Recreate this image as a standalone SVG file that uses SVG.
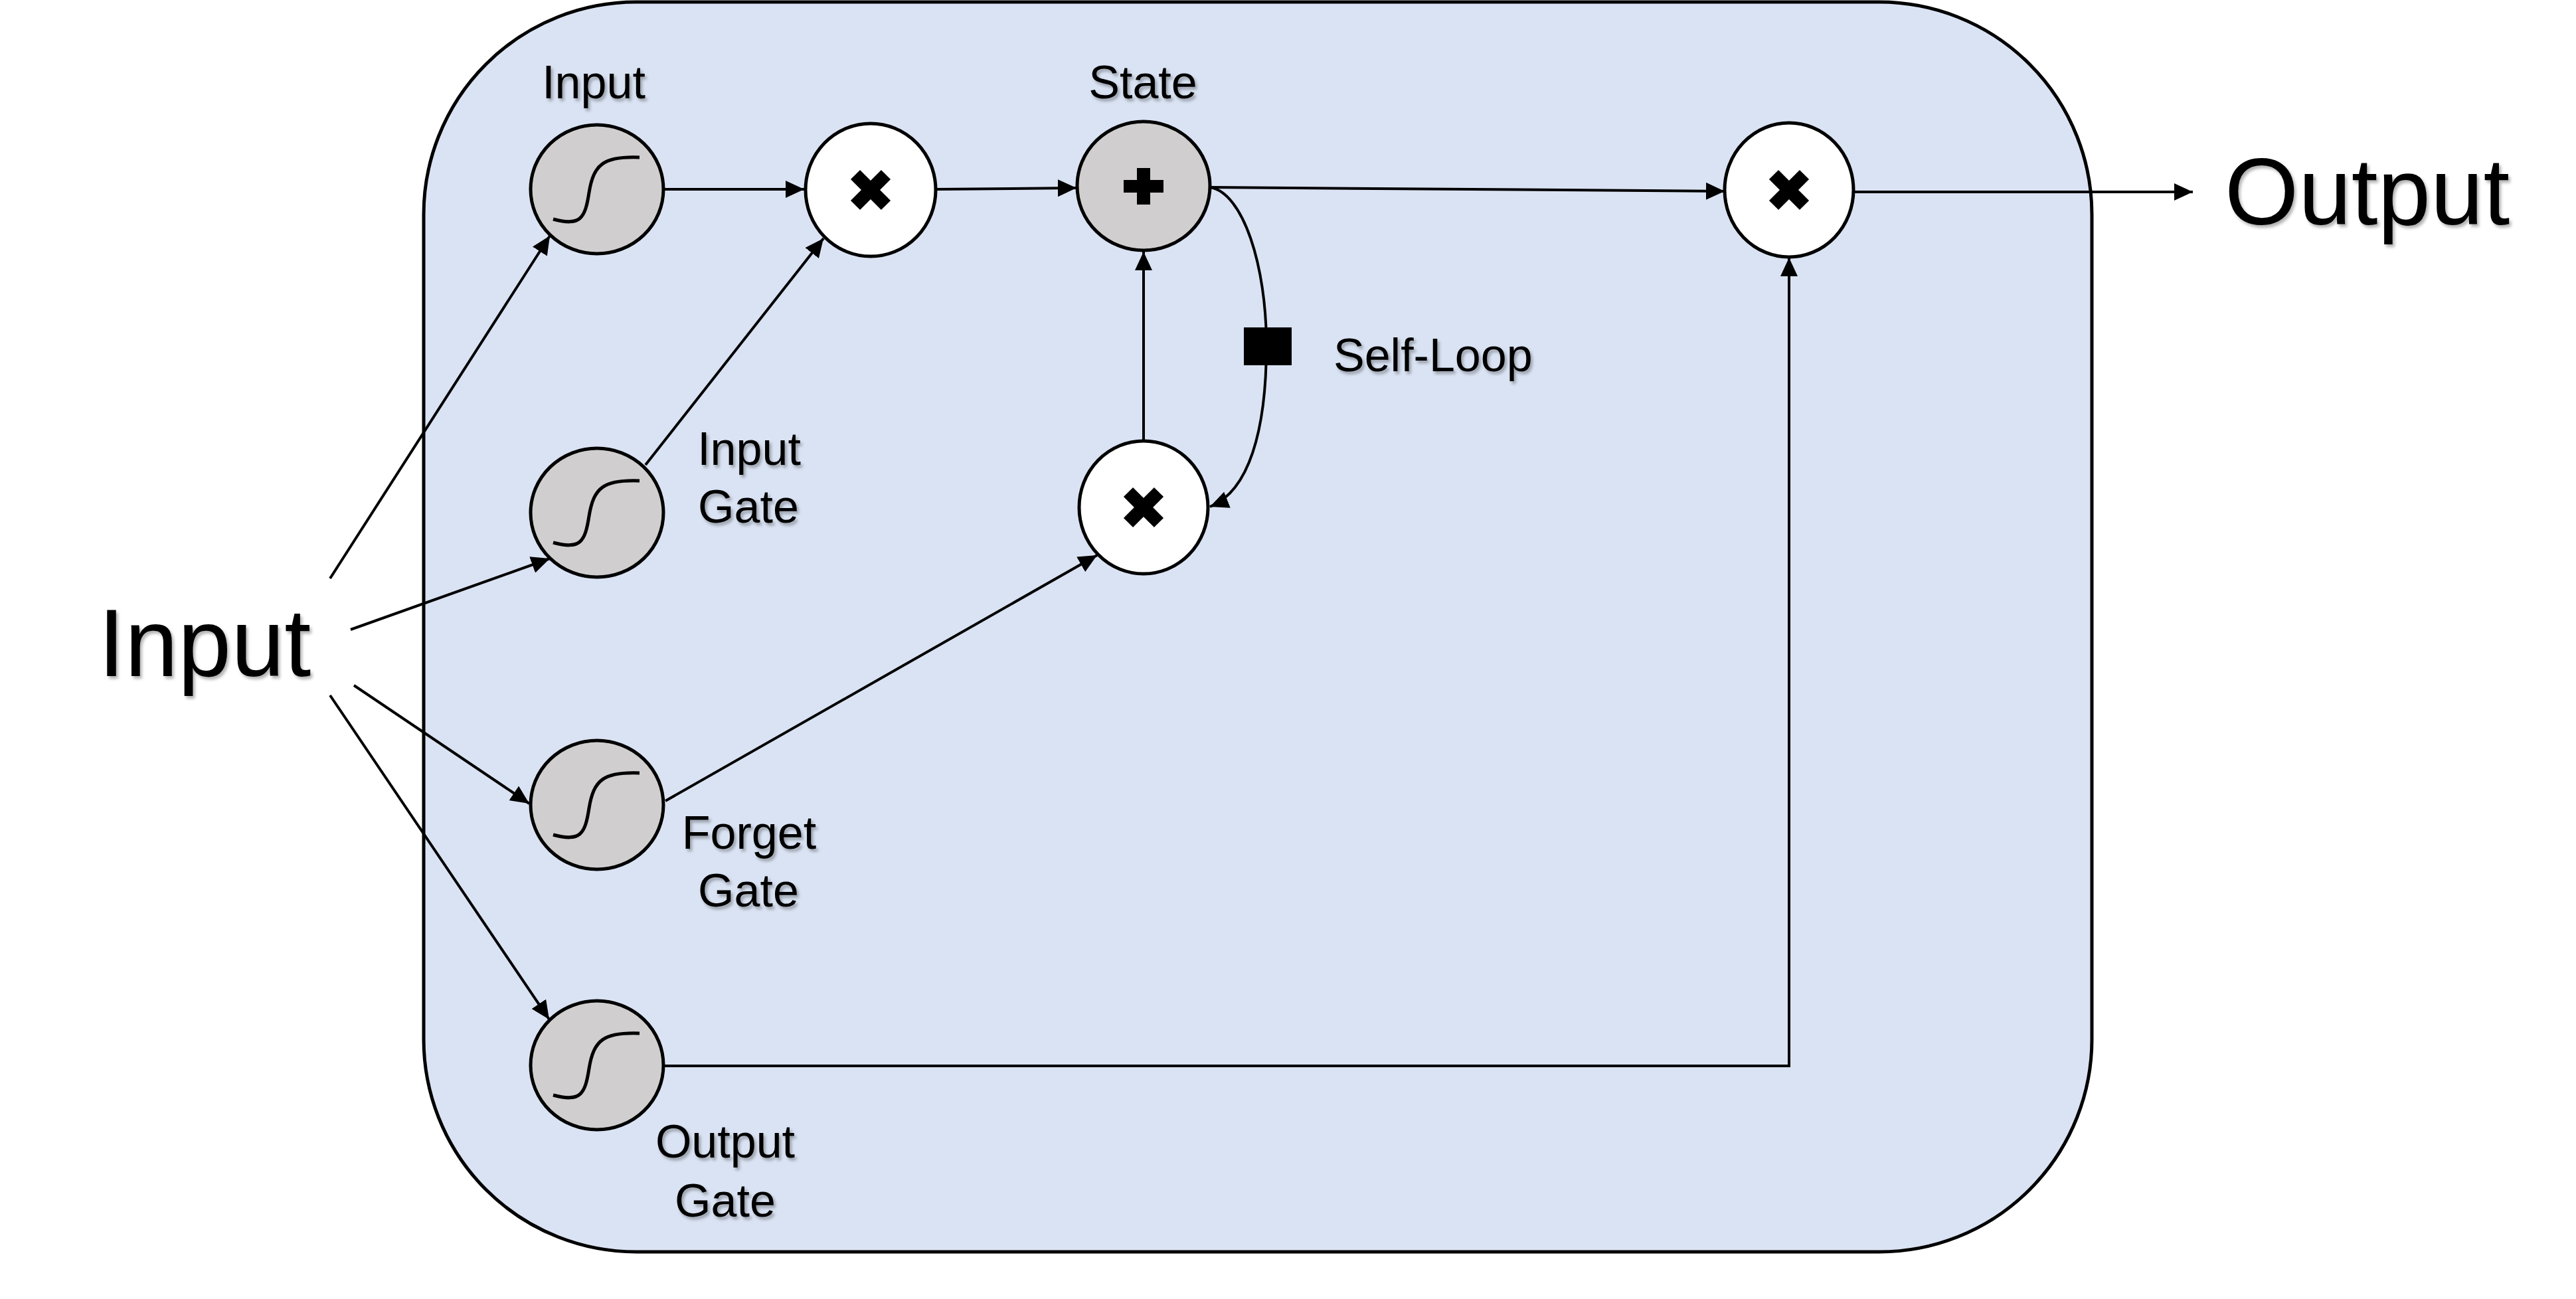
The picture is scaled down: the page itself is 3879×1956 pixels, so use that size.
<svg xmlns="http://www.w3.org/2000/svg" width="3879" height="1956" viewBox="0 0 3879 1956">
<style>
.lbl{font-family:"Liberation Sans",Arial,sans-serif;font-size:70px;fill:#000;filter:url(#sh)}
.big{font-family:"Liberation Sans",Arial,sans-serif;font-size:142px;fill:#000;filter:url(#sh)}
.gray{fill:#D0CECE;stroke:#000;stroke-width:5}
.white{fill:#FFFFFF;stroke:#000;stroke-width:5}
.sig{fill:none;stroke:#000;stroke-width:5;stroke-linecap:butt}
.conn{fill:none;stroke:#000;stroke-width:4}
.arr{marker-end:url(#ah)}
.xm{stroke:#000;stroke-width:20;stroke-linecap:butt}
</style>
<defs>
<filter id="sh" x="-10%" y="-10%" width="130%" height="140%">
<feDropShadow dx="3" dy="4" stdDeviation="2" flood-color="#000" flood-opacity="0.3"/>
</filter>
<marker id="ah" markerUnits="userSpaceOnUse" markerWidth="30" markerHeight="26" refX="28" refY="13" orient="auto">
<path d="M0,0 L28,13 L0,26 z" fill="#000"/>
</marker>
<path id="sigmoid" d="M -66 45 C -25 56 -18 44 -12 5 C -5 -38 10 -50 64 -48" class="sig"/>
<g id="xmark"><line class="xm" x1="-23" y1="-23" x2="23" y2="23"/><line class="xm" x1="23" y1="-23" x2="-23" y2="23"/></g>
</defs>
<rect width="3879" height="1956" fill="#FFFFFF"/>
<g id="cell">
<rect x="638" y="3" width="2512" height="1882" rx="320" ry="320" fill="#DAE3F3" stroke="#000" stroke-width="5"/>
</g>
<g id="connectors">
<line class="conn arr" x1="497" y1="871" x2="828" y2="355"/>
<line class="conn arr" x1="528" y1="948" x2="828" y2="841"/>
<line class="conn arr" x1="533" y1="1032" x2="797" y2="1210"/>
<line class="conn arr" x1="497" y1="1047" x2="827" y2="1535"/>
<line class="conn arr" x1="1000" y1="285" x2="1211" y2="285"/>
<line class="conn arr" x1="1410" y1="285" x2="1621" y2="283"/>
<line class="conn arr" x1="972" y1="700" x2="1240" y2="359"/>
<line class="conn arr" x1="1002" y1="1206" x2="1652" y2="836"/>
<line class="conn arr" x1="1722" y1="664" x2="1722" y2="379"/>
<line class="conn arr" x1="1822" y1="282" x2="2597" y2="288"/>
<path class="conn arr" d="M 1822 282 C 1872 290 1907 400 1907 520 C 1907 650 1880 740 1822 763"/>
<rect x="1873" y="493" width="72" height="57" fill="#000"/>
<path class="conn arr" d="M 1000 1605 H 2694 V 388"/>
<line class="conn arr" x1="2791" y1="289" x2="3302" y2="289"/>
</g>
<g id="node-input-label"><text class="big" x="148" y="1018" style="font-size:144px">Input</text></g>
<g id="node-output-label"><text class="big" x="3350" y="338" style="font-size:143px">Output</text></g>
<g id="node-input-sig">
<ellipse class="gray" cx="899" cy="285" rx="100" ry="97"/>
<use href="#sigmoid" x="899" y="285"/>
<text class="lbl" x="894" y="148" text-anchor="middle">Input</text>
</g>
<g id="node-mul-in">
<ellipse class="white" cx="1311" cy="286" rx="98" ry="100"/>
<use href="#xmark" x="1311" y="286"/>
</g>
<g id="node-state">
<ellipse class="gray" cx="1722" cy="280" rx="100" ry="97"/>
<rect x="1692" y="271" width="60" height="19" fill="#000"/>
<rect x="1712" y="253" width="20" height="55" fill="#000"/>
<text class="lbl" x="1721" y="148" text-anchor="middle">State</text>
</g>
<g id="node-mul-out">
<ellipse class="white" cx="2694" cy="286" rx="97" ry="101"/>
<use href="#xmark" x="2694" y="286"/>
</g>
<g id="node-input-gate">
<ellipse class="gray" cx="899" cy="772" rx="100" ry="97"/>
<use href="#sigmoid" x="899" y="772"/>
<text class="lbl" x="1128" y="700" text-anchor="middle">Input</text>
<text class="lbl" x="1127" y="787" text-anchor="middle">Gate</text>
</g>
<g id="node-mul-forget">
<ellipse class="white" cx="1722" cy="764" rx="97" ry="100"/>
<use href="#xmark" x="1722" y="764"/>
<text class="lbl" x="2008" y="559">Self-Loop</text>
</g>
<g id="node-forget-gate">
<ellipse class="gray" cx="899" cy="1212" rx="100" ry="97"/>
<use href="#sigmoid" x="899" y="1212"/>
<text class="lbl" x="1128" y="1278" text-anchor="middle">Forget</text>
<text class="lbl" x="1127" y="1365" text-anchor="middle">Gate</text>
</g>
<g id="node-output-gate">
<ellipse class="gray" cx="899" cy="1604" rx="100" ry="97"/>
<use href="#sigmoid" x="899" y="1604"/>
<text class="lbl" x="1092" y="1743" text-anchor="middle">Output</text>
<text class="lbl" x="1092" y="1832" text-anchor="middle">Gate</text>
</g>
</svg>
